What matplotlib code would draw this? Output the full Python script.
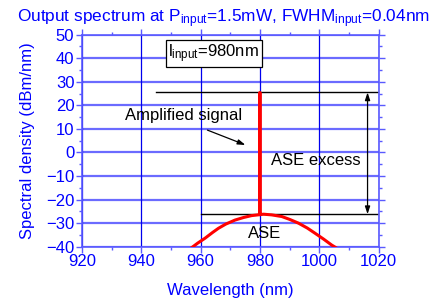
import matplotlib
matplotlib.use("Agg")
import matplotlib.pyplot as plt
from matplotlib.ticker import MultipleLocator

plt.rcParams['font.family'] = ['Liberation Sans', 'DejaVu Sans']
plt.rcParams['mathtext.fontset'] = 'custom'
plt.rcParams['mathtext.rm'] = 'Liberation Sans'
plt.rcParams['mathtext.it'] = 'Liberation Sans:italic'
plt.rcParams['mathtext.bf'] = 'Liberation Sans:bold'

# Spectrum data (wavelength nm, spectral density dBm/nm)
wavelength = [955.5, 957.0, 959.0, 961.5, 964.0, 966.0, 968.5, 971.6, 974.5, 977.2,
              979.98, 980.0, 980.02, 981.2, 984.0, 987.4, 990.0, 993.0, 996.0,
              998.6, 1001.5, 1004.2, 1006.4]
density = [-41.5, -40.4, -38.5, -36.4, -34.0, -32.2, -30.4, -28.7, -27.6, -26.8,
           -26.4, 25.5, -26.4, -26.2, -26.5, -27.2, -28.4, -30.0, -32.1,
           -34.3, -36.8, -39.3, -41.0]

signal_level = max(density)
ase_level = -26.2
x_ticks = [920, 940, 960, 980, 1000, 1020]
y_ticks = [-40, -30, -20, -10, 0, 10, 20, 30, 40, 50]

BLUE = '#0000ff'
SPINE = '#5a5aff'
FS = 12

fig = plt.figure(figsize=(4.38, 3.0), dpi=100)
ax = fig.add_axes([0.1872, 0.1777, 0.8642 - 0.1872, 0.8843 - 0.1777])

ax.set_xlim(920, 1020)
ax.set_ylim(-40, 50)
ax.set_xticks(x_ticks)
ax.set_yticks(y_ticks)
ax.xaxis.set_minor_locator(MultipleLocator(10))
ax.yaxis.set_minor_locator(MultipleLocator(5))

# grid
for y in y_ticks:
    ax.axhline(y, color='#6b6bff', lw=1.6, zorder=1)
for x in x_ticks:
    ax.axvline(x, color='#0000ee', lw=0.9, zorder=1)

for s in ax.spines.values():
    s.set_color(SPINE)
    s.set_linewidth(1.2)
ax.tick_params(which='both', direction='out', color=SPINE, width=1.0,
               top=True, right=True, labeltop=False, labelright=False)
ax.tick_params(which='major', length=4, labelsize=FS, labelcolor=BLUE, pad=1.5)
ax.tick_params(which='minor', length=2.5)

ax.plot(wavelength, density, color='#ff0000', lw=2.2, zorder=4,
        solid_joinstyle='round', solid_capstyle='butt')

# annotation lines
ax.plot([945, 1019.4], [signal_level, signal_level], color='black', lw=1.0, zorder=3)
ax.plot([960, 1019.4], [ase_level, ase_level], color='black', lw=1.0, zorder=3)
ax.annotate('', xy=(1016.3, signal_level), xytext=(1016.3, ase_level),
            arrowprops=dict(arrowstyle='<|-|>,head_length=0.45,head_width=0.15',
                            color='black', lw=0.9, shrinkA=0, shrinkB=0), zorder=5)
ax.annotate('', xy=(975.1, 3.2), xytext=(962.3, 9.5),
            arrowprops=dict(arrowstyle='-|>,head_length=0.45,head_width=0.15',
                            color='black', lw=0.9, shrinkA=0, shrinkB=0), zorder=5)

ax.text(954.4, 15.5, 'Amplified signal', fontsize=FS, ha='center', va='center', zorder=5)
ax.text(998.7, -3.3, 'ASE excess', fontsize=FS, ha='center', va='center', zorder=5)
ax.text(981.7, -34.3, 'ASE', fontsize=FS, ha='center', va='center', zorder=5)
ax.text(964.5, 42.0, r'l$_{\mathrm{input}}$=980nm', fontsize=FS, ha='center', va='center',
        zorder=6, bbox=dict(boxstyle='square,pad=0.15', fc='white', ec='black', lw=0.9))

ax.set_xlabel('Wavelength (nm)', fontsize=FS, color=BLUE, labelpad=10)
ax.set_ylabel('Spectral density (dBm/nm)', fontsize=FS, color=BLUE, labelpad=8)

fig.text(17 / 438, 1 - 22 / 300,
         r'Output spectrum at P$_{\mathrm{input}}$=1.5mW, FWHM$_{\mathrm{input}}$=0.04nm',
         fontsize=12.4, color=BLUE, ha='left', va='baseline')

fig.savefig('out.png', dpi=100)
